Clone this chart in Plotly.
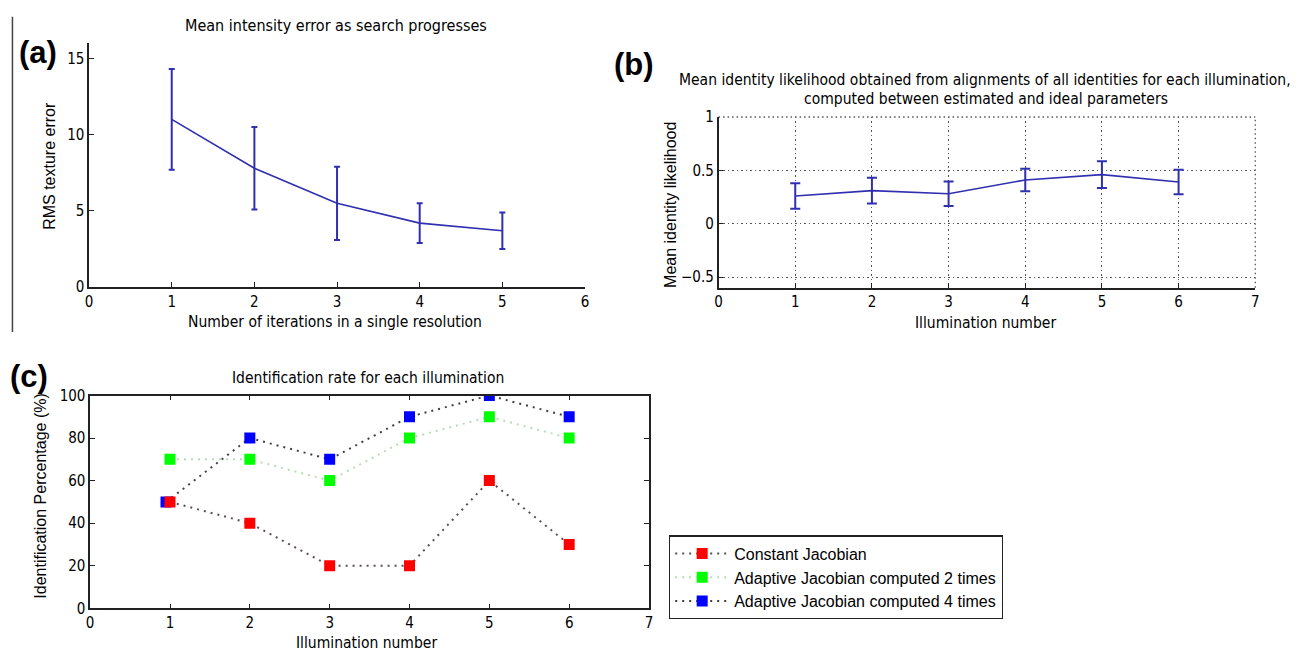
import plotly.graph_objects as go

W, H = 1302, 663

# ---------------- data ----------------
# (a) mean intensity error
iters = [1, 2, 3, 4, 5]
rms_err = [11.0, 7.8, 5.5, 4.2, 3.7]
rms_std = [3.3, 2.7, 2.4, 1.3, 1.2]
a_xticks = [0, 1, 2, 3, 4, 5, 6]
a_yticks = [0, 5, 10, 15]

# (b) mean identity likelihood
illum_b = [1, 2, 3, 4, 5, 6]
lik_mean = [0.26, 0.31, 0.28, 0.41, 0.46, 0.39]
lik_std = [0.12, 0.12, 0.115, 0.105, 0.125, 0.115]
b_xticks = [0, 1, 2, 3, 4, 5, 6, 7]
b_yticks = [-0.5, 0, 0.5, 1]

# (c) identification rate
illum_c = [1, 2, 3, 4, 5, 6]
illum_c_blue = [0.95, 2, 3, 4, 5, 6]
const_jac = [50, 40, 20, 20, 60, 30]
adapt2 = [70, 70, 60, 80, 90, 80]
adapt4 = [50, 80, 70, 90, 100, 90]
c_xticks = [0, 1, 2, 3, 4, 5, 6, 7]
c_yticks = [0, 20, 40, 60, 80, 100]

NARROW = "Liberation Sans Narrow, DejaVu Sans Condensed, Arial Narrow, sans-serif"
ARIAL = "Liberation Sans, Arial, sans-serif"
BLUE_LINE = "#2f2fb0"
AX_COL = "#222222"


def px_x(p):
    return p / W


def px_y(p):
    return 1 - p / H


fig = go.Figure()

# (a)
fig.add_trace(go.Scatter(
    x=iters, y=rms_err, mode="lines",
    line=dict(color=BLUE_LINE, width=1.6),
    error_y=dict(type="data", array=rms_std, color=BLUE_LINE, thickness=2, width=3),
    xaxis="x", yaxis="y", showlegend=False))

# (b)
fig.add_trace(go.Scatter(
    x=illum_b, y=lik_mean, mode="lines",
    line=dict(color=BLUE_LINE, width=1.6),
    error_y=dict(type="data", array=lik_std, color=BLUE_LINE, thickness=2, width=5),
    xaxis="x2", yaxis="y2", showlegend=False))

# (c)
fig.add_trace(go.Scatter(
    x=illum_c_blue, y=adapt4, mode="lines+markers", name="Adaptive Jacobian computed 4 times",
    line=dict(color="#404040", width=2, dash="2px,5px"),
    marker=dict(symbol="square", size=11, color="#0000ff"),
    xaxis="x3", yaxis="y3", legendrank=3))
fig.add_trace(go.Scatter(
    x=illum_c, y=adapt2, mode="lines+markers", name="Adaptive Jacobian computed 2 times",
    line=dict(color="#b8dcb8", width=2, dash="2px,5px"),
    marker=dict(symbol="square", size=11, color="#00ff00"),
    xaxis="x3", yaxis="y3", legendrank=2))
fig.add_trace(go.Scatter(
    x=illum_c, y=const_jac, mode="lines+markers", name="Constant Jacobian",
    line=dict(color="#5a5050", width=2, dash="2px,5px"),
    marker=dict(symbol="square", size=11, color="#ff0000"),
    xaxis="x3", yaxis="y3", legendrank=1))

tickfont = dict(family=NARROW, size=15, color="black")
common = dict(showline=True, linecolor=AX_COL, linewidth=1.5, ticks="inside",
              ticklen=5, tickcolor=AX_COL, tickwidth=1.2, tickfont=tickfont,
              zeroline=False, fixedrange=True)
grid = dict(showgrid=True, gridcolor="#555555", gridwidth=1.3, griddash="1.5px,3px")

fig.update_layout(
    width=W, height=H,
    margin=dict(l=0, r=0, t=0, b=0),
    paper_bgcolor="white", plot_bgcolor="white",
    # (a)
    xaxis=dict(domain=[px_x(85.6), px_x(584.6)], range=[0, 6], tickvals=a_xticks,
               anchor="y", showgrid=False, **common),
    yaxis=dict(domain=[px_y(286), px_y(35)], range=[0, 16], tickvals=a_yticks,
               anchor="x", showgrid=False, **common),
    # (b)
    xaxis2=dict(domain=[px_x(719), px_x(1259)], range=[0, 7], tickvals=b_xticks,
                anchor="y2", **common, **grid),
    yaxis2=dict(domain=[px_y(286.5), px_y(111)], range=[-0.6, 1], tickvals=b_yticks,
                anchor="x2", **common, **grid),
    # (c)
    xaxis3=dict(domain=[px_x(86.7), px_x(649)], range=[0, 7], tickvals=c_xticks,
                anchor="y3", mirror="ticks", showgrid=False, **common),
    yaxis3=dict(domain=[px_y(616), px_y(397.3)], range=[0, 100], tickvals=c_yticks,
                anchor="x3", mirror="ticks", showgrid=False, **common),
    legend=dict(x=px_x(669), y=px_y(541), xanchor="left", yanchor="top",
                bordercolor="#222222", borderwidth=1.3, bgcolor="white",
                font=dict(family=ARIAL, size=16, color="black"),
                traceorder="normal", itemwidth=54, tracegroupgap=0),
)

annots = [
    # panel letters
    dict(text="<b>(a)</b>", x=34, y=45, size=31, family=ARIAL),
    dict(text="<b>(b)</b>", x=634, y=57, size=31, family=ARIAL),
    dict(text="<b>(c)</b>", x=25, y=378, size=31, family=ARIAL),
    # titles
    dict(text="Mean intensity error as search progresses", x=334, y=17, size=16, family=NARROW),
    dict(text="Mean identity likelihood obtained from alignments of all identities for each illumination,",
         x=987, y=73, size=15.5, family=NARROW),
    dict(text="computed between estimated and ideal parameters", x=988, y=93, size=15.5, family=NARROW),
    dict(text="Identification rate for each illumination", x=366, y=379, size=15.5, family=NARROW),
    # x labels
    dict(text="Number of iterations in a single resolution", x=333, y=322, size=15.5, family=NARROW),
    dict(text="Illumination number", x=988, y=323, size=15.5, family=NARROW),
    dict(text="Illumination number", x=365, y=652, size=15.5, family=NARROW),
    # y labels
    dict(text="RMS texture error", x=45, y=161.5, size=16, family=ARIAL, angle=-90),
    dict(text="Mean identity likelihood", x=670, y=201.5, size=16, family=ARIAL, angle=-90),
    dict(text="Identification Percentage (%)", x=37, y=500.5, size=16, family=ARIAL, angle=-90),
]
for a in annots:
    fig.add_annotation(text=a["text"], x=px_x(a["x"]), y=px_y(a["y"]), xref="paper", yref="paper",
                       xanchor="center", yanchor="middle", showarrow=False,
                       textangle=a.get("angle", 0),
                       font=dict(family=a["family"], size=a["size"], color="black"))

# left separator line
fig.add_shape(type="line", xref="paper", yref="paper", x0=px_x(8.5), x1=px_x(8.5),
              y0=px_y(8), y1=px_y(332), line=dict(color="#444444", width=1.5))

# dotted frame edges of panel (b) (top and right, where MATLAB draws grid on the box)
dotted = dict(color="#555555", width=1.3, dash="1.5px,3px")
fig.add_shape(type="line", xref="x2 domain", yref="y2 domain", x0=0, x1=1, y0=1, y1=1, line=dotted)
fig.add_shape(type="line", xref="x2 domain", yref="y2 domain", x0=1, x1=1, y0=0, y1=1, line=dotted)

fig.write_html("out.html")
